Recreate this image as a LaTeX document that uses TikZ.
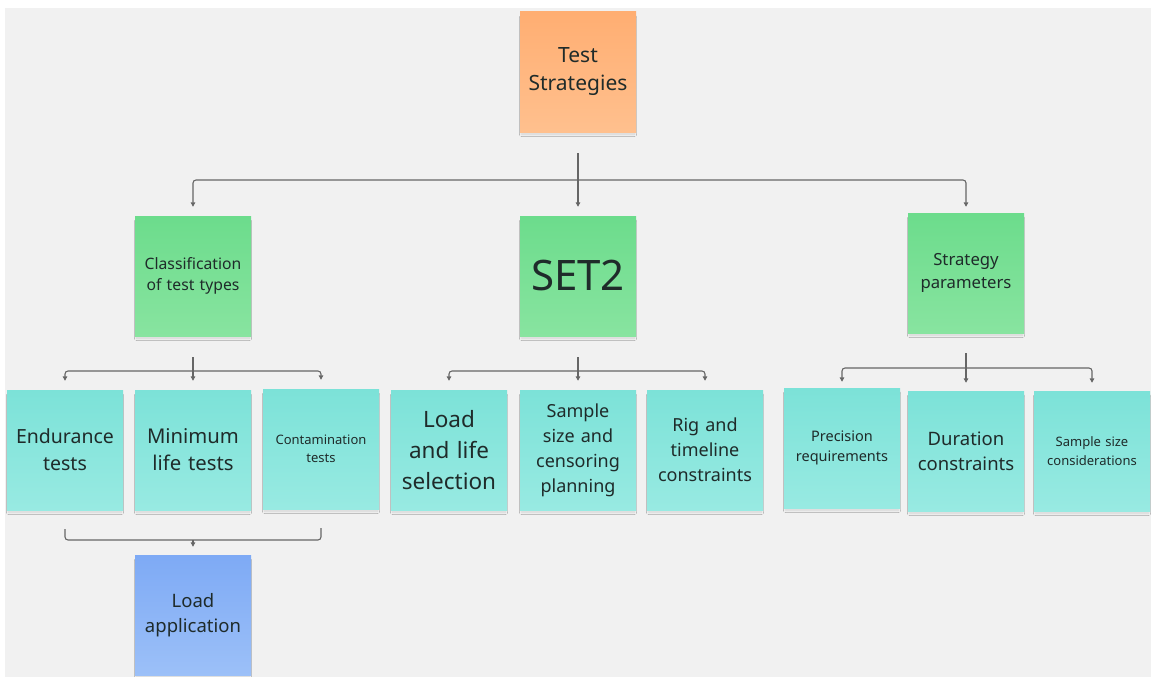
\documentclass[tikz,border=0pt]{standalone}
\usepackage{fontspec}
\setmainfont{Noto Sans}
\usetikzlibrary{arrows.meta,shadows.blur}

\definecolor{canvas}{HTML}{F1F1F1}
\definecolor{ink}{HTML}{1F2B2A}
\definecolor{wire}{HTML}{666666}
\definecolor{orangeTop}{HTML}{FFAE72}
\definecolor{orangeBot}{HTML}{FFC08E}
\definecolor{greenTop}{HTML}{6CDC8C}
\definecolor{greenBot}{HTML}{88E4A0}
\definecolor{tealTop}{HTML}{7CE2D8}
\definecolor{tealBot}{HTML}{98EAE2}
\definecolor{blueTop}{HTML}{7EAAF5}
\definecolor{blueBot}{HTML}{9CC0F8}

\tikzset{
  note/.style={minimum width=116pt, minimum height=120pt, inner sep=0pt,
    align=center, text=ink, text width=112pt,
    blur shadow={shadow xshift=0pt, shadow yshift=-4pt, shadow scale=0.97,
      shadow blur steps=6, shadow opacity=12, shadow blur radius=2.5pt}},
  orangenote/.style={note, top color=orangeTop, bottom color=orangeBot},
  greennote/.style={note, top color=greenTop, bottom color=greenBot},
  tealnote/.style={note, top color=tealTop, bottom color=tealBot},
  bluenote/.style={note, top color=blueTop, bottom color=blueBot},
  sz/.style 2 args={font=\fontsize{#1}{#2}\selectfont},
  link/.style={draw=wire, line width=1.1pt},
  arr/.style={link, -{Triangle[length=4.5pt,width=4.5pt]}, rounded corners=3pt},
}

\begin{document}
\begin{tikzpicture}[x=1pt,y=-1pt]
  % page and canvas
  \fill[white] (0,0) rectangle (1151,677);
  \fill[canvas] (5,8) rectangle (1151,677);
  \useasboundingbox (0,0) rectangle (1151,677);

  % root
  \node[orangenote, sz={21}{28}] (ts) at (578,72) {Test\\Strategies};

  % second level
  \node[greennote, sz={15.7}{21.5}] (cls)  at (193,276) {Classification\\of test types};
  \node[greennote, sz={42}{50}]     (set2) at (578,276) {SET2};
  \node[greennote, sz={16.7}{23}]   (sp)   at (966,273) {Strategy\\parameters};

  % third level, left group
  \node[tealnote, sz={19.5}{27}] (end) at (65,450)  {Endurance\\tests};
  \node[tealnote, sz={20.3}{27}] (min) at (193,450) {Minimum\\life tests};
  \node[tealnote, sz={13}{18}]   (con) at (321,449) {Contamination\\tests};

  % third level, middle group
  \node[tealnote, sz={22.5}{31}] (lls) at (449,450)   {Load\\and life\\selection};
  \node[tealnote, sz={18}{25}]   (ssc) at (578,450)   {Sample\\size and\\censoring\\planning};
  \node[tealnote, sz={18}{25}]   (rig) at (705,450)   {Rig and\\timeline\\constraints};

  % third level, right group
  \node[tealnote, sz={14.5}{19.5}] (pre) at (842,448)  {Precision\\requirements};
  \node[tealnote, sz={18.5}{25}]   (dur) at (966,451)  {Duration\\constraints};
  \node[tealnote, sz={13}{18.5}]   (szc) at (1092,451) {Sample size\\considerations};

  % merged result
  \node[bluenote, sz={18.5}{25}] (la) at (193,615) {Load\\application};

  % junction points
  \coordinate (h0) at (578,180);
  \coordinate (h1) at (193,371);
  \coordinate (h2) at (578,371);
  \coordinate (h3) at (966,368);
  \coordinate (h4) at (193,540);

  % root -> second level
  \draw[link] ([yshift=-21pt]ts.south) -- (h0);
  \draw[arr] (h0) -| ([yshift=9pt]cls.north);
  \draw[arr] (h0) -- ([yshift=9pt]set2.north);
  \draw[arr] (h0) -| ([yshift=6pt]sp.north);

  % classification -> test types
  \draw[link] ([yshift=-21pt]cls.south) -- (h1);
  \draw[arr] (h1) -| ([yshift=9pt]end.north);
  \draw[arr] (h1) -- ([yshift=9pt]min.north);
  \draw[arr] (h1) -| ([yshift=9pt]con.north);

  % SET2 -> planning items
  \draw[link] ([yshift=-21pt]set2.south) -- (h2);
  \draw[arr] (h2) -| ([yshift=9pt]lls.north);
  \draw[arr] (h2) -- ([yshift=9pt]ssc.north);
  \draw[arr] (h2) -| ([yshift=9pt]rig.north);

  % strategy parameters -> constraints
  \draw[link] ([yshift=-20pt]sp.south) -- (h3);
  \draw[arr] (h3) -| ([yshift=6pt]pre.north);
  \draw[arr] (h3) -- ([yshift=8pt]dur.north);
  \draw[arr] (h3) -| ([yshift=8pt]szc.north);

  % test types -> load application
  \draw[link, rounded corners=3pt] ([yshift=-19pt]end.south) |- (h4) -| ([yshift=-19pt]con.south);
  \draw[arr] (h4) -- ([yshift=8pt]la.north);
\end{tikzpicture}
\end{document}
